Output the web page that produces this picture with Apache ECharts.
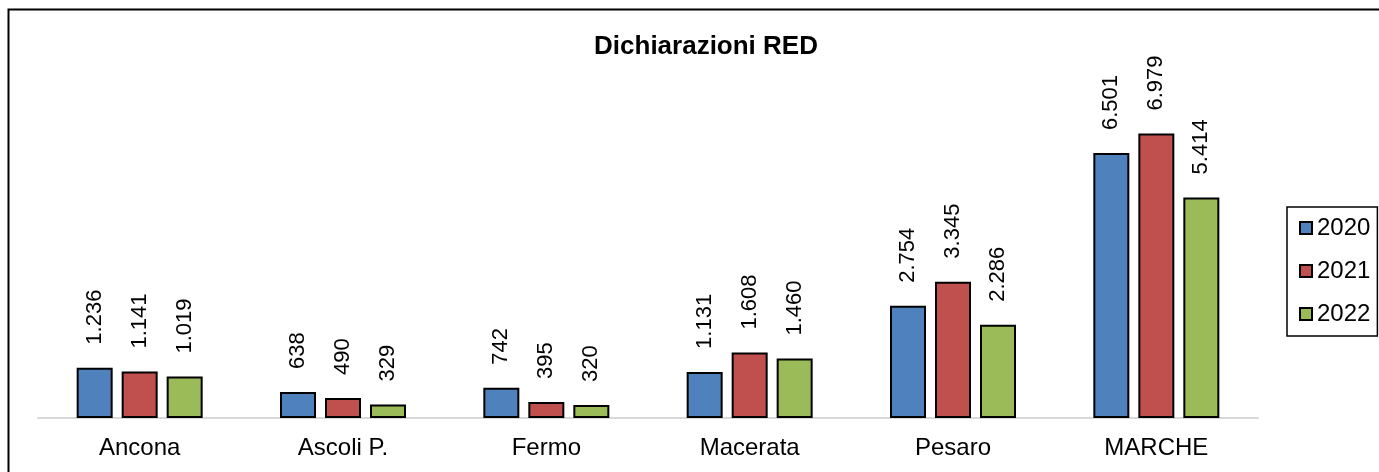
<!DOCTYPE html>
<html>
<head>
<meta charset="utf-8">
<script src="https://cdn.jsdelivr.net/npm/echarts@6/dist/echarts.min.js"></script>
<style>
  html, body { margin: 0; padding: 0; background: #fff; }
  #main { width: 1379px; height: 472px; }
</style>
</head>
<body>
<div id="main"></div>
<script>
// dati
const categories = ['Ancona', 'Ascoli P.', 'Fermo', 'Macerata', 'Pesaro', 'MARCHE'];
const years = ['2020', '2021', '2022'];
const values2020 = [1236, 638, 742, 1131, 2754, 6501];
const values2021 = [1141, 490, 395, 1608, 3345, 6979];
const values2022 = [1019, 329, 320, 1460, 2286, 5414];
const colors = ['#4f81bd', '#c0504d', '#9bbb59'];

(function () {
    let myChart = echarts.init(document.getElementById('main'));
    const font = 'Liberation Sans, Arial, sans-serif';

    // formato italiano: punto come separatore delle migliaia
    function fmt(v) {
        return String(v).replace(/\B(?=(\d{3})+(?!\d))/g, '.');
    }

    function makeSeries(name, data, color) {
        return {
            name: name,
            type: 'bar',
            data: data,
            barWidth: 36,
            barGap: '25%',
            itemStyle: {
                color: color,
                borderColor: '#000',
                borderWidth: 2
            },
            label: {
                show: true,
                position: 'top',
                rotate: 90,
                align: 'left',
                verticalAlign: 'middle',
                distance: 23,
                color: '#000',
                fontSize: 22,
                fontFamily: font,
                formatter: function (p) { return fmt(p.value); }
            }
        };
    }

    let option = {
        animation: false,
        title: {
            text: 'Dichiarazioni RED',
            left: 701,
            textAlign: 'center',
            top: 29,
            textStyle: {
                fontSize: 26,
                fontWeight: 'bold',
                color: '#000',
                fontFamily: font
            }
        },
        legend: {
            orient: 'vertical',
            left: 1287,
            top: 207,
            padding: [9, 7, 10, 12],
            itemGap: 19,
            itemWidth: 12,
            itemHeight: 12,
            icon: 'rect',
            borderColor: '#000',
            borderWidth: 1.5,
            textStyle: {
                fontSize: 24,
                color: '#000',
                fontFamily: font
            },
            data: years
        },
        grid: {
            left: 38,
            right: 121,
            top: 92,
            bottom: 54
        },
        xAxis: {
            type: 'category',
            data: categories,
            axisTick: { show: false },
            axisLine: { lineStyle: { color: '#d9d9d9', width: 2 } },
            axisLabel: {
                color: '#000',
                fontSize: 24,
                margin: 18,
                fontFamily: font
            }
        },
        yAxis: {
            type: 'value',
            min: 0,
            max: 8000,
            show: false,
            splitLine: { show: false }
        },
        graphic: [{
            type: 'rect',
            shape: { x: 8.5, y: 9.5, width: 1400, height: 500 },
            style: { fill: 'none', stroke: '#000', lineWidth: 2 },
            silent: true
        }],
        series: [
            makeSeries(years[0], values2020, colors[0]),
            makeSeries(years[1], values2021, colors[1]),
            makeSeries(years[2], values2022, colors[2])
        ]
    };

    myChart.setOption(option);
    window.addEventListener('resize', function () {
        myChart.resize();
    });
})();
</script>
</body>
</html>
